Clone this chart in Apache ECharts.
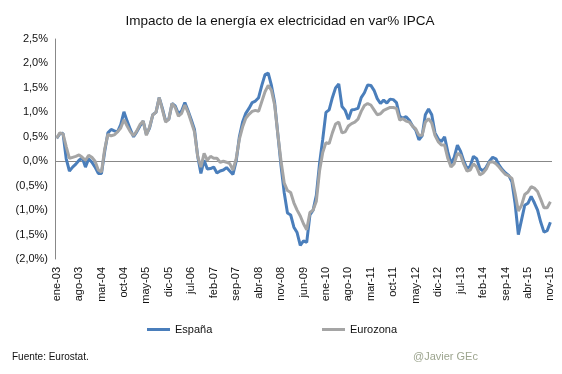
<!DOCTYPE html>
<html><head><meta charset="utf-8">
<script src="https://cdn.jsdelivr.net/npm/echarts@6/dist/echarts.min.js"></script>
<style>html,body{margin:0;padding:0;background:#fff}#c{width:562px;height:374px}</style>
</head><body><div id="c"></div>
<script>
const monthNames = ['ene','feb','mar','abr','may','jun','jul','ago','sep','oct','nov','dic'];
const startYear = 2003, monthCount = 155;
const categories = [];
for (let i = 0; i < monthCount; i++) {
  const y = startYear + Math.floor(i / 12);
  categories.push(monthNames[i % 12] + '-' + String(y % 100).padStart(2, '0'));
}
const espana = [
 0.47,0.56,0.57,0.05,-0.2,-0.12,-0.06,0.02,0.07,-0.12,0.05,-0.02,-0.12,-0.25,-0.25,0.2,0.58,0.65,0.62,0.6,
 0.75,1.01,0.82,0.65,0.5,0.6,0.72,0.82,0.55,0.68,0.95,1.0,1.3,1.08,0.82,0.86,1.18,1.13,0.97,1.03,
 1.2,1.03,0.85,0.65,0.1,-0.25,0.02,-0.16,-0.15,-0.12,-0.24,-0.2,-0.18,-0.13,-0.2,-0.27,0.0,0.5,0.8,0.98,
 1.08,1.2,1.23,1.3,1.55,1.77,1.8,1.55,1.2,0.55,-0.1,-0.65,-1.06,-1.1,-1.35,-1.46,-1.72,-1.63,-1.66,-1.1,
 -1.0,-0.7,-0.05,0.45,1.0,1.05,1.3,1.5,1.58,1.12,1.04,0.86,1.05,1.06,1.08,1.3,1.4,1.56,1.55,1.45,
 1.28,1.18,1.25,1.19,1.27,1.26,1.2,0.92,0.88,0.91,0.84,0.72,0.64,0.44,0.52,0.95,1.07,0.95,0.58,0.46,
 0.4,0.5,0.19,-0.05,0.08,0.33,0.2,0.0,-0.15,-0.1,0.1,0.05,-0.15,-0.2,-0.12,0.0,0.08,0.05,-0.08,-0.17,
 -0.24,-0.29,-0.42,-0.87,-1.5,-1.2,-0.9,-0.86,-0.72,-0.85,-1.0,-1.25,-1.45,-1.42,-1.25
];
const eurozona = [
 0.47,0.58,0.56,0.3,0.06,0.08,0.1,0.13,0.08,0.02,0.12,0.08,0.0,-0.18,-0.22,0.25,0.55,0.52,0.54,0.6,
 0.68,0.85,0.72,0.6,0.52,0.62,0.75,0.82,0.53,0.7,0.95,1.0,1.3,1.05,0.8,0.86,1.18,1.1,0.92,0.98,
 1.15,1.0,0.8,0.6,0.1,-0.12,0.16,0.02,0.1,0.06,0.06,-0.02,0.0,-0.02,-0.05,-0.18,0.05,0.45,0.7,0.88,
 0.96,1.02,1.04,1.02,1.22,1.42,1.55,1.45,1.15,0.55,0.0,-0.45,-0.6,-0.64,-0.85,-1.0,-1.12,-1.28,-1.4,-1.05,
 -1.0,-0.82,-0.2,0.18,0.38,0.36,0.58,0.76,0.8,0.58,0.6,0.72,0.77,0.8,0.86,1.02,1.14,1.18,1.15,1.05,
 0.95,0.97,1.04,1.07,1.1,1.1,1.08,0.84,0.87,0.82,0.8,0.72,0.66,0.53,0.53,0.8,0.87,0.78,0.53,0.4,
 0.33,0.33,0.06,-0.12,-0.05,0.16,0.12,-0.06,-0.2,-0.18,-0.05,-0.12,-0.28,-0.24,-0.16,-0.02,-0.01,-0.05,-0.12,-0.2,
 -0.27,-0.3,-0.35,-0.66,-1.02,-0.9,-0.68,-0.63,-0.52,-0.55,-0.62,-0.78,-0.95,-0.95,-0.83
];
const FONT = '"Liberation Sans", Arial, sans-serif';
function fmt(v){
  const s = Math.abs(v).toFixed(1).replace('.', ',') + '%';
  return v < 0 ? '(' + s + ')' : s;
}
const chart = echarts.init(document.getElementById('c'), null, {renderer:'canvas'});
chart.setOption({
  animation:false,
  backgroundColor:'#fff',
  title:{text:'Impacto de la energía ex electricidad en var% IPCA', left:275, textAlign:'center', top:9,
    textStyle:{fontFamily:FONT, fontSize:13.5, fontWeight:'normal', color:'#111'}},
  legend:[
    {data:['España'], left:142, top:319, icon:'rect', itemWidth:23, itemHeight:3, itemGap:5,
     textStyle:{fontFamily:FONT, fontSize:11, color:'#111'}},
    {data:['Eurozona'], left:317, top:319, icon:'rect', itemWidth:23, itemHeight:3, itemGap:5,
     textStyle:{fontFamily:FONT, fontSize:11, color:'#111'}}
  ],
  grid:{left:55, right:10, top:39, bottom:115},
  xAxis:{type:'category', data:categories, boundaryGap:true,
    axisLine:{show:false}, axisTick:{show:false},
    axisLabel:{interval:6, rotate:90, fontFamily:FONT, fontSize:11, color:'#111', margin:8}},
  yAxis:{type:'value', min:-2, max:2.5, interval:0.5,
    axisLine:{show:true, lineStyle:{color:'#888', width:1}}, axisTick:{show:false},
    splitLine:{show:false},
    axisLabel:{formatter:fmt, fontFamily:FONT, fontSize:11, color:'#111', margin:7}},
  series:[
    {name:'España', type:'line', data:espana, symbol:'none', lineStyle:{color:'#4a7ebb', width:3}, itemStyle:{color:'#4a7ebb'}, z:3,
     markLine:{silent:true, symbol:'none', label:{show:false}, lineStyle:{color:'#888', width:1, type:'solid'}, data:[{yAxis:0}], z:1}},
    {name:'Eurozona', type:'line', data:eurozona, symbol:'none', lineStyle:{color:'#a5a5a5', width:3}, itemStyle:{color:'#a5a5a5'}, z:4}
  ],
  graphic:[
    {type:'text', left:12, top:352, style:{text:'Fuente: Eurostat.', fontFamily:FONT, fontSize:10, fill:'#111'}},
    {type:'text', left:413, top:351, style:{text:'@Javier GEc', fontFamily:FONT, fontSize:11, fill:'#9da58f'}}
  ]
});
</script></body></html>
